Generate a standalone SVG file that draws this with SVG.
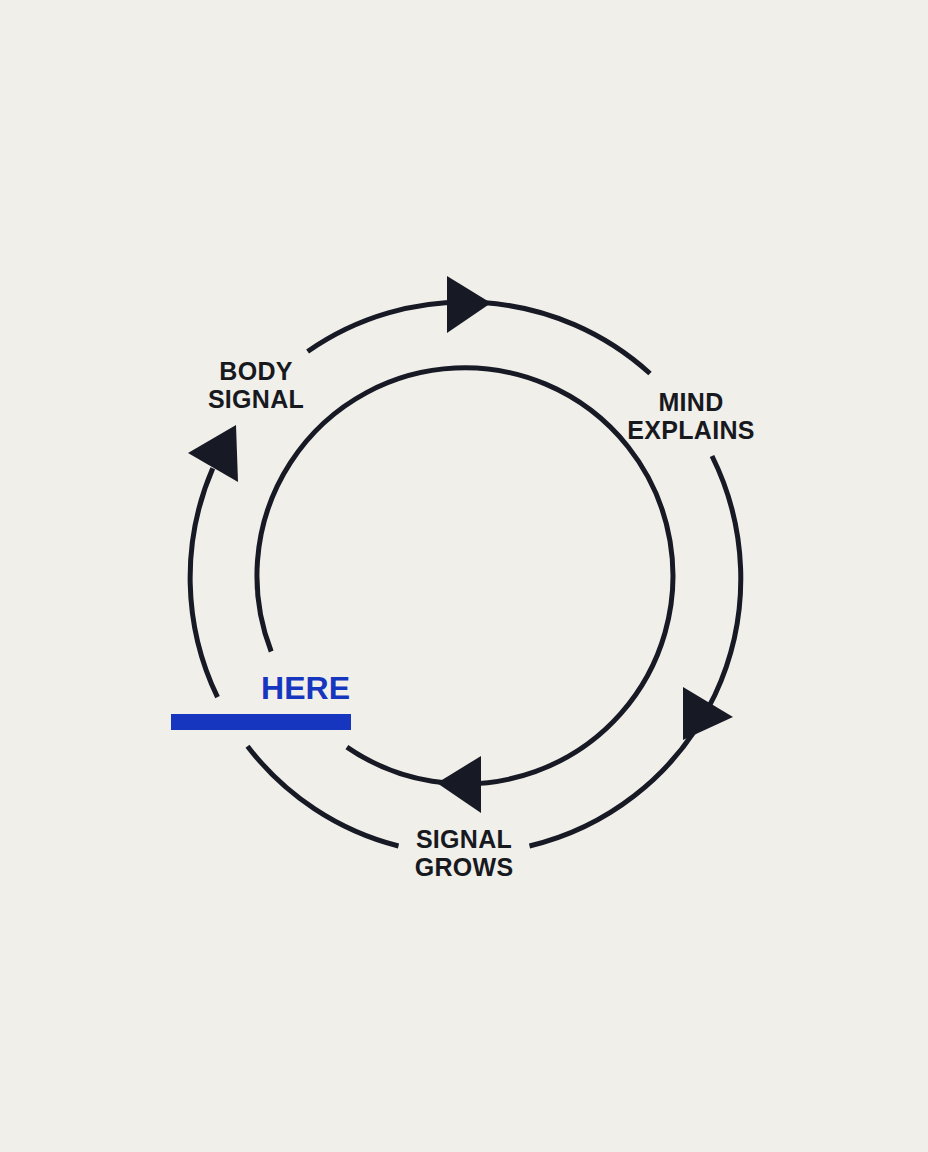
<svg xmlns="http://www.w3.org/2000/svg" width="928" height="1152" viewBox="0 0 928 1152">
  <style>
    .arc { fill: none; stroke: #171a24; stroke-width: 5; stroke-linecap: butt; }
    .head { fill: #171a24; }
    .lbl { font-family: "Liberation Sans", Arial, sans-serif; font-weight: bold; font-size: 25px; letter-spacing: 0.3px; fill: #17191f; text-anchor: middle; }
    .here { font-family: "Liberation Sans", Arial, sans-serif; font-weight: bold; font-size: 32px; fill: #1636c0; text-anchor: end; }
  </style>
  <rect x="0" y="0" width="928" height="1152" fill="#f1efea"/>
  <g id="connectors">
    <path class="arc" d="M 307.6 351.5 A 275 275 0 0 1 650 373.5"/>
    <path class="arc" d="M 712 456 A 275 275 0 0 1 529.5 846"/>
    <path class="arc" d="M 398.5 846 A 275 275 0 0 1 247.5 746.2"/>
    <path class="arc" d="M 217.5 697.2 A 275 275 0 0 1 212.8 468.3"/>
    <path class="arc" d="M 271.2 651.5 A 208 208 0 1 1 346.9 747.1"/>
    <polygon class="head" points="447,276 491,303 447,333"/>
    <polygon class="head" points="683,687 733,717 683,740"/>
    <polygon class="head" points="481,756 437,783 481,813"/>
    <polygon class="head" points="236,425 188,453 238,482"/>
  </g>
  <g id="body-signal">
    <text class="lbl" x="256" y="379.5">BODY<tspan x="256" dy="28">SIGNAL</tspan></text>
  </g>
  <g id="mind-explains">
    <text class="lbl" x="691" y="410.5">MIND<tspan x="691" dy="28">EXPLAINS</tspan></text>
  </g>
  <g id="signal-grows">
    <text class="lbl" x="464" y="847.5">SIGNAL<tspan x="464" dy="28">GROWS</tspan></text>
  </g>
  <g id="here">
    <text class="here" x="350" y="699">HERE</text>
    <rect x="171" y="714" width="180" height="16" fill="#1636c0"/>
  </g>
</svg>
